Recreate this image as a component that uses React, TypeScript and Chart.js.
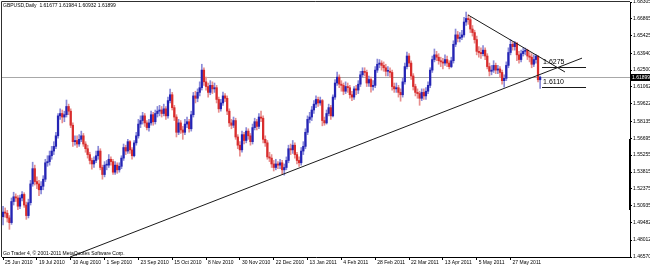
import React, { useEffect, useRef } from 'react';
import { Chart, registerables } from 'chart.js';

Chart.register(...registerables);

// ---------- data (GBPUSD daily, 25 Jun 2010 .. 16 Jun 2011) ----------
const opens = [
  1.5000,1.5040,1.5030,1.4990,1.4950,1.5130,1.5170,1.5160,1.5090,1.5160,
  1.5190,1.5100,1.5010,1.5120,1.5280,1.5410,1.5300,1.5280,1.5230,1.5260,
  1.5320,1.5460,1.5470,1.5520,1.5560,1.5600,1.5690,1.5860,1.5880,1.5850,
  1.5870,1.5940,1.5900,1.5780,1.5640,1.5650,1.5620,1.5660,1.5690,1.5620,
  1.5580,1.5530,1.5480,1.5450,1.5480,1.5520,1.5560,1.5420,1.5360,1.5440,
  1.5440,1.5490,1.5470,1.5380,1.5440,1.5400,1.5430,1.5500,1.5590,1.5560,
  1.5640,1.5570,1.5520,1.5630,1.5690,1.5790,1.5820,1.5860,1.5800,1.5760,
  1.5800,1.5870,1.5810,1.5880,1.5900,1.5910,1.5880,1.5920,1.5860,1.5990,
  1.6040,1.5930,1.5850,1.5720,1.5800,1.5740,1.5720,1.5790,1.5810,1.5750,
  1.5870,1.6030,1.6010,1.6060,1.6100,1.6250,1.6150,1.6110,1.6060,1.6120,
  1.6090,1.6100,1.6000,1.5920,1.5970,1.6030,1.6010,1.5900,1.5800,1.5780,
  1.5820,1.5680,1.5610,1.5570,1.5700,1.5650,1.5730,1.5690,1.5640,1.5760,
  1.5810,1.5770,1.5850,1.5840,1.5660,1.5630,1.5510,1.5500,1.5450,1.5420,
  1.5450,1.5440,1.5460,1.5400,1.5420,1.5480,1.5580,1.5570,1.5610,1.5530,
  1.5480,1.5460,1.5560,1.5600,1.5720,1.5830,1.5850,1.5910,1.5960,1.6000,
  1.5970,1.5990,1.5820,1.5800,1.5880,1.5930,1.5860,1.6020,1.6140,1.6190,
  1.6130,1.6120,1.6070,1.6110,1.6100,1.6040,1.6020,1.6090,1.6080,1.6130,
  1.6210,1.6240,1.6230,1.6140,1.6170,1.6110,1.6120,1.6250,1.6300,1.6310,
  1.6290,1.6270,1.6240,1.6240,1.6230,1.6110,1.6090,1.6100,1.6060,1.6040,
  1.6150,1.6280,1.6370,1.6310,1.6200,1.6110,1.6060,1.6050,1.6010,1.6060,
  1.6030,1.6070,1.6120,1.6250,1.6340,1.6380,1.6360,1.6330,1.6320,1.6310,
  1.6340,1.6310,1.6280,1.6330,1.6470,1.6550,1.6520,1.6530,1.6550,1.6660,
  1.6690,1.6680,1.6600,1.6570,1.6510,1.6410,1.6400,1.6390,1.6420,1.6370,
  1.6280,1.6240,1.6250,1.6290,1.6250,1.6260,1.6230,1.6160,1.6180,1.6290,
  1.6400,1.6470,1.6450,1.6480,1.6380,1.6340,1.6390,1.6410,1.6420,1.6370,
  1.6360,1.6300,1.6340,1.6368,1.61677,
];
const highs = [
  1.5089,1.5075,1.5055,1.5010,1.5160,1.5209,1.5195,1.5180,1.5185,1.5215,
  1.5205,1.5125,1.5150,1.5310,1.5465,1.5440,1.5340,1.5310,1.5300,1.5350,
  1.5490,1.5520,1.5560,1.5600,1.5640,1.5720,1.5880,1.5920,1.5910,1.5900,
  1.5995,1.5960,1.5920,1.5800,1.5690,1.5690,1.5700,1.5730,1.5710,1.5640,
  1.5610,1.5550,1.5500,1.5510,1.5560,1.5601,1.5580,1.5440,1.5470,1.5480,
  1.5530,1.5510,1.5490,1.5470,1.5460,1.5460,1.5520,1.5620,1.5610,1.5660,
  1.5650,1.5590,1.5650,1.5720,1.5830,1.5860,1.5890,1.5880,1.5820,1.5830,
  1.5900,1.5890,1.5910,1.5940,1.5950,1.5940,1.5960,1.5940,1.6020,1.6088,
  1.6060,1.5950,1.5870,1.5830,1.5820,1.5770,1.5830,1.5850,1.5830,1.5900,
  1.6060,1.6070,1.6090,1.6150,1.6300,1.6270,1.6190,1.6140,1.6160,1.6150,
  1.6140,1.6120,1.6020,1.6000,1.6062,1.6050,1.6030,1.5920,1.5830,1.5850,
  1.5840,1.5700,1.5640,1.5730,1.5720,1.5760,1.5750,1.5710,1.5790,1.5840,
  1.5830,1.5880,1.5900,1.5860,1.5690,1.5650,1.5550,1.5530,1.5480,1.5490,
  1.5470,1.5490,1.5480,1.5450,1.5510,1.5610,1.5620,1.5650,1.5630,1.5550,
  1.5510,1.5590,1.5640,1.5750,1.5860,1.5890,1.5940,1.5990,1.6030,1.6020,
  1.6020,1.6000,1.5850,1.5910,1.5960,1.5950,1.6040,1.6170,1.6233,1.6210,
  1.6160,1.6140,1.6150,1.6140,1.6120,1.6070,1.6110,1.6120,1.6160,1.6240,
  1.6270,1.6270,1.6250,1.6200,1.6190,1.6160,1.6280,1.6344,1.6340,1.6330,
  1.6320,1.6300,1.6280,1.6270,1.6250,1.6140,1.6140,1.6120,1.6090,1.6180,
  1.6310,1.6404,1.6390,1.6330,1.6220,1.6130,1.6090,1.6070,1.6090,1.6090,
  1.6100,1.6150,1.6270,1.6370,1.6430,1.6410,1.6390,1.6360,1.6350,1.6380,
  1.6370,1.6330,1.6360,1.6500,1.6600,1.6580,1.6570,1.6590,1.6700,1.6745,
  1.6720,1.6700,1.6630,1.6590,1.6540,1.6450,1.6440,1.6460,1.6440,1.6390,
  1.6310,1.6290,1.6330,1.6310,1.6290,1.6280,1.6250,1.6210,1.6320,1.6440,
  1.6510,1.6490,1.6495,1.6485,1.6410,1.6420,1.6440,1.6438,1.6428,1.6400,
  1.6390,1.6380,1.6385,1.6376,1.61984,
];
const lows = [
  1.4930,1.4995,1.4955,1.4893,1.4935,1.5100,1.5130,1.5060,1.5070,1.5135,
  1.5080,1.4978,1.4990,1.5100,1.5260,1.5270,1.5240,1.5180,1.5195,1.5230,
  1.5300,1.5430,1.5440,1.5490,1.5530,1.5580,1.5670,1.5830,1.5800,1.5810,
  1.5850,1.5870,1.5760,1.5600,1.5610,1.5590,1.5600,1.5640,1.5600,1.5550,
  1.5500,1.5450,1.5405,1.5420,1.5460,1.5490,1.5400,1.5320,1.5340,1.5400,
  1.5420,1.5440,1.5360,1.5360,1.5370,1.5380,1.5410,1.5480,1.5530,1.5540,
  1.5540,1.5490,1.5510,1.5610,1.5670,1.5760,1.5790,1.5770,1.5740,1.5730,
  1.5780,1.5780,1.5790,1.5850,1.5860,1.5850,1.5860,1.5830,1.5840,1.5970,
  1.5910,1.5820,1.5680,1.5700,1.5710,1.5660,1.5700,1.5760,1.5720,1.5730,
  1.5850,1.5970,1.5980,1.6030,1.6080,1.6120,1.6080,1.6020,1.6040,1.6050,
  1.6060,1.5970,1.5890,1.5900,1.5950,1.5980,1.5870,1.5770,1.5750,1.5760,
  1.5660,1.5580,1.5516,1.5550,1.5620,1.5630,1.5660,1.5610,1.5620,1.5740,
  1.5740,1.5750,1.5810,1.5630,1.5600,1.5490,1.5470,1.5420,1.5390,1.5400,
  1.5410,1.5410,1.5365,1.5355,1.5400,1.5460,1.5530,1.5540,1.5500,1.5450,
  1.5430,1.5440,1.5530,1.5580,1.5700,1.5800,1.5820,1.5880,1.5930,1.5940,
  1.5950,1.5775,1.5780,1.5790,1.5860,1.5830,1.5850,1.6000,1.6120,1.6100,
  1.6070,1.6040,1.6050,1.6060,1.6010,1.5990,1.6000,1.6040,1.6050,1.6110,
  1.6190,1.6200,1.6110,1.6110,1.6062,1.6080,1.6100,1.6230,1.6270,1.6250,
  1.6240,1.6200,1.6200,1.6190,1.6080,1.6060,1.6060,1.6020,1.5985,1.6020,
  1.6130,1.6260,1.6280,1.6170,1.6080,1.6030,1.6010,1.5950,1.5990,1.6000,
  1.6000,1.6050,1.6100,1.6230,1.6320,1.6330,1.6300,1.6280,1.6260,1.6290,
  1.6280,1.6260,1.6270,1.6310,1.6450,1.6490,1.6490,1.6510,1.6530,1.6630,
  1.6640,1.6570,1.6540,1.6480,1.6380,1.6360,1.6350,1.6370,1.6340,1.6260,
  1.6200,1.6210,1.6230,1.6220,1.6220,1.6190,1.6130,1.6105,1.6160,1.6270,
  1.6380,1.6420,1.6420,1.6330,1.6310,1.6320,1.6370,1.6380,1.6340,1.6320,
  1.6270,1.6280,1.6310,1.6150,1.60932,
];
const closes = [
  1.5040,1.5030,1.4990,1.4950,1.5130,1.5170,1.5160,1.5090,1.5160,1.5190,
  1.5100,1.5010,1.5120,1.5280,1.5410,1.5300,1.5280,1.5230,1.5260,1.5320,
  1.5460,1.5470,1.5520,1.5560,1.5600,1.5690,1.5860,1.5880,1.5850,1.5870,
  1.5940,1.5900,1.5780,1.5640,1.5650,1.5620,1.5660,1.5690,1.5620,1.5580,
  1.5530,1.5480,1.5450,1.5480,1.5520,1.5560,1.5420,1.5360,1.5440,1.5440,
  1.5490,1.5470,1.5380,1.5440,1.5400,1.5430,1.5500,1.5590,1.5560,1.5640,
  1.5570,1.5520,1.5630,1.5690,1.5790,1.5820,1.5860,1.5800,1.5760,1.5800,
  1.5870,1.5810,1.5880,1.5900,1.5910,1.5880,1.5920,1.5860,1.5990,1.6040,
  1.5930,1.5850,1.5720,1.5800,1.5740,1.5720,1.5790,1.5810,1.5750,1.5870,
  1.6030,1.6010,1.6060,1.6100,1.6250,1.6150,1.6110,1.6060,1.6120,1.6090,
  1.6100,1.6000,1.5920,1.5970,1.6030,1.6010,1.5900,1.5800,1.5780,1.5820,
  1.5680,1.5610,1.5570,1.5700,1.5650,1.5730,1.5690,1.5640,1.5760,1.5810,
  1.5770,1.5850,1.5840,1.5660,1.5630,1.5510,1.5500,1.5450,1.5420,1.5450,
  1.5440,1.5460,1.5400,1.5420,1.5480,1.5580,1.5570,1.5610,1.5530,1.5480,
  1.5460,1.5560,1.5600,1.5720,1.5830,1.5850,1.5910,1.5960,1.6000,1.5970,
  1.5990,1.5820,1.5800,1.5880,1.5930,1.5860,1.6020,1.6140,1.6190,1.6130,
  1.6120,1.6070,1.6110,1.6100,1.6040,1.6020,1.6090,1.6080,1.6130,1.6210,
  1.6240,1.6230,1.6140,1.6170,1.6110,1.6120,1.6250,1.6300,1.6310,1.6290,
  1.6270,1.6240,1.6240,1.6230,1.6110,1.6090,1.6100,1.6060,1.6040,1.6150,
  1.6280,1.6370,1.6310,1.6200,1.6110,1.6060,1.6050,1.6010,1.6060,1.6030,
  1.6070,1.6120,1.6250,1.6340,1.6380,1.6360,1.6330,1.6320,1.6310,1.6340,
  1.6310,1.6280,1.6330,1.6470,1.6550,1.6520,1.6530,1.6550,1.6660,1.6690,
  1.6680,1.6600,1.6570,1.6510,1.6410,1.6400,1.6390,1.6420,1.6370,1.6280,
  1.6240,1.6250,1.6290,1.6250,1.6260,1.6230,1.6160,1.6180,1.6290,1.6400,
  1.6470,1.6450,1.6480,1.6380,1.6340,1.6390,1.6410,1.6420,1.6370,1.6360,
  1.6300,1.6340,1.6368,1.6168,1.61899,
];

// time axis: one label every 16 bars
const dateLabels = [
  '25 Jun 2010','19 Jul 2010','10 Aug 2010','1 Sep 2010','23 Sep 2010','15 Oct 2010',
  '8 Nov 2010','30 Nov 2010','22 Dec 2010','13 Jan 2011','4 Feb 2011','28 Feb 2011',
  '22 Mar 2011','13 Apr 2011','5 May 2011','27 May 2011',
];
const DATE_TICK_STEP = 16;
const SLOT_COUNT = 297; // bars + empty chart shift on the right

// price axis
const Y_MAX = 1.68305;
const Y_MIN = 1.4657;
const yTicks = [
  1.68305,1.66865,1.65425,1.63940,1.62500,1.61062,1.59622,1.58135,
  1.56695,1.55255,1.53815,1.52375,1.50935,1.49482,1.48012,1.46570,
];
const BID = 1.61899;
const SCALE_MARK = [1.5663, 1.5057];

// drawn objects: [barIndex, price]
const supportLine = [[31.66, 1.4657], [273.8, 1.6352]];
const resistanceLine = [[219.9, 1.6720], [265.75, 1.6234]];
const levelPrices = [1.6275, 1.6110];
const levelTexts = ['1.6275', '1.6110'];
const LEVEL_FROM = 254.9;
const LEVEL_TO = 275.7;

const titleText = 'GBPUSD,Daily  1.61677 1.61984 1.60932 1.61899';
const footerText = 'Go Trader 4, \u00A9 2001-2011 MetaQuotes Software Corp.';

const FONT = "'Liberation Sans', Arial, sans-serif";
const UP_BODY = '#2424b4';
const DOWN_BODY = '#d82c2c';
const UP_WICK = '#8a8ad8';
const DOWN_WICK = '#e88e8e';

const overlay = {
  id: 'mtOverlay',
  beforeDatasetsDraw(chart: any) {
    const { ctx, chartArea: a, scales } = chart;
    const y = scales.y;
    ctx.save();
    const yb = Math.round(y.getPixelForValue(BID)) + 0.5;
    ctx.strokeStyle = '#a8a8a8';
    ctx.lineWidth = 1;
    ctx.beginPath();
    ctx.moveTo(a.left, yb);
    ctx.lineTo(a.right, yb);
    ctx.stroke();
    ctx.restore();
  },
  afterDatasetsDraw(chart: any) {
    const { ctx, chartArea: a, scales } = chart;
    const x = scales.x;
    const y = scales.y;
    ctx.save();
    ctx.beginPath();
    ctx.rect(a.left, a.top, a.right - a.left, a.bottom - a.top);
    ctx.clip();
    ctx.strokeStyle = '#1a1a1a';
    ctx.lineWidth = 1;
    for (const ln of [supportLine, resistanceLine]) {
      ctx.beginPath();
      ctx.moveTo(x.getPixelForValue(ln[0][0]), y.getPixelForValue(ln[0][1]));
      ctx.lineTo(x.getPixelForValue(ln[1][0]), y.getPixelForValue(ln[1][1]));
      ctx.stroke();
    }
    const x0 = x.getPixelForValue(LEVEL_FROM);
    const x1 = x.getPixelForValue(LEVEL_TO);
    ctx.font = `7px ${FONT}`;
    ctx.fillStyle = '#000';
    ctx.textBaseline = 'bottom';
    ctx.textAlign = 'left';
    levelPrices.forEach((p, k) => {
      const py = Math.round(y.getPixelForValue(p)) + 0.5;
      ctx.beginPath();
      ctx.moveTo(x0, py);
      ctx.lineTo(x1, py);
      ctx.stroke();
      ctx.fillText(levelTexts[k], x0 + 1, py - 1.5);
    });
    ctx.font = `5px ${FONT}`;
    ctx.textBaseline = 'top';
    ctx.fillText(titleText, 3, 3);
    ctx.textBaseline = 'alphabetic';
    ctx.fillText(footerText, 3, a.bottom - 2);
    ctx.restore();
  },
  afterDraw(chart: any) {
    const { ctx, chartArea: a, scales } = chart;
    const y = scales.y;
    ctx.save();
    ctx.strokeStyle = '#303030';
    ctx.lineWidth = 1;
    ctx.beginPath();
    ctx.moveTo(a.left - 0.5, a.bottom);
    ctx.lineTo(a.left - 0.5, a.top - 0.5);
    ctx.lineTo(a.right, a.top - 0.5);
    ctx.stroke();
    // scale mark on price axis
    ctx.strokeStyle = '#000';
    ctx.lineWidth = 2;
    ctx.beginPath();
    ctx.moveTo(a.right, y.getPixelForValue(SCALE_MARK[0]));
    ctx.lineTo(a.right, y.getPixelForValue(SCALE_MARK[1]));
    ctx.stroke();
    // bid price box
    const yb = Math.round(y.getPixelForValue(BID));
    ctx.fillStyle = '#000';
    ctx.fillRect(a.right, yb - 3, 20, 7);
    ctx.fillStyle = '#fff';
    ctx.font = `5px ${FONT}`;
    ctx.textBaseline = 'middle';
    ctx.textAlign = 'left';
    ctx.fillText(BID.toFixed(5), a.right + 2, yb + 0.5);
    ctx.restore();
  },
};

export default function App() {
  const ref = useRef<HTMLCanvasElement | null>(null);
  useEffect(() => {
    const canvas = ref.current;
    if (!canvas) return;
    const slots = Array.from({ length: SLOT_COUNT }, (_, i) => String(i));
    const isUp = closes.map((c, i) => c >= opens[i]);
    const chart = new Chart(canvas, {
      type: 'bar',
      data: {
        labels: slots,
        datasets: [
          {
            label: 'wick',
            data: lows.map((l, i) => [l, highs[i]]) as any,
            backgroundColor: isUp.map((u) => (u ? UP_WICK : DOWN_WICK)),
            barThickness: 1,
            grouped: false,
            order: 2,
            borderWidth: 0,
          },
          {
            label: 'body',
            data: opens.map((o, i) => [o, closes[i]]) as any,
            backgroundColor: isUp.map((u) => (u ? UP_BODY : DOWN_BODY)),
            barThickness: 1.6,
            grouped: false,
            order: 1,
            borderWidth: 0,
            minBarLength: 1,
          },
        ],
      },
      options: {
        animation: false,
        responsive: false,
        devicePixelRatio: 1,
        layout: { padding: { left: 2, top: 2, right: 0, bottom: 0 } },
        plugins: { legend: { display: false }, tooltip: { enabled: false } },
        scales: {
          x: {
            type: 'category',
            offset: true,
            afterBuildTicks: (s: any) => {
              s.ticks = dateLabels.map((_, k) => ({ value: k * DATE_TICK_STEP }));
            },
            afterFit: (s: any) => {
              s.height = 9;
              s.paddingLeft = 0;
              s.paddingRight = 0;
              s.paddingTop = 0;
              s.paddingBottom = 0;
            },
            ticks: {
              autoSkip: false,
              maxRotation: 0,
              minRotation: 0,
              align: 'start',
              labelOffset: 2,
              padding: 0,
              color: '#000',
              font: { size: 5, family: FONT },
              callback: (v: any) => dateLabels[Math.round(Number(v) / DATE_TICK_STEP)] ?? '',
            },
            grid: { drawOnChartArea: false, drawTicks: true, tickLength: 3, offset: false, color: '#000' },
            border: { display: true, color: '#000' },
          },
          y: {
            position: 'right',
            min: Y_MIN,
            max: Y_MAX,
            afterBuildTicks: (s: any) => {
              s.ticks = yTicks.map((v) => ({ value: v }));
            },
            afterFit: (s: any) => {
              s.width = 20;
              s.paddingLeft = 0;
              s.paddingRight = 0;
              s.paddingTop = 0;
              s.paddingBottom = 0;
            },
            ticks: {
              autoSkip: false,
              padding: 1,
              color: '#000',
              font: { size: 5, family: FONT },
              callback: (v: any) => Number(v).toFixed(5),
            },
            grid: { drawOnChartArea: false, drawTicks: true, tickLength: 2, color: '#000' },
            border: { display: true, color: '#000' },
          },
        },
      },
      plugins: [overlay],
    } as any);
    return () => chart.destroy();
  }, []);
  return (
    <div style={{ position: 'fixed', left: 0, top: 0, width: 650, height: 266, background: '#fff' }}>
      <canvas ref={ref} width={650} height={266} style={{ display: 'block', width: 650, height: 266 }} />
    </div>
  );
}
